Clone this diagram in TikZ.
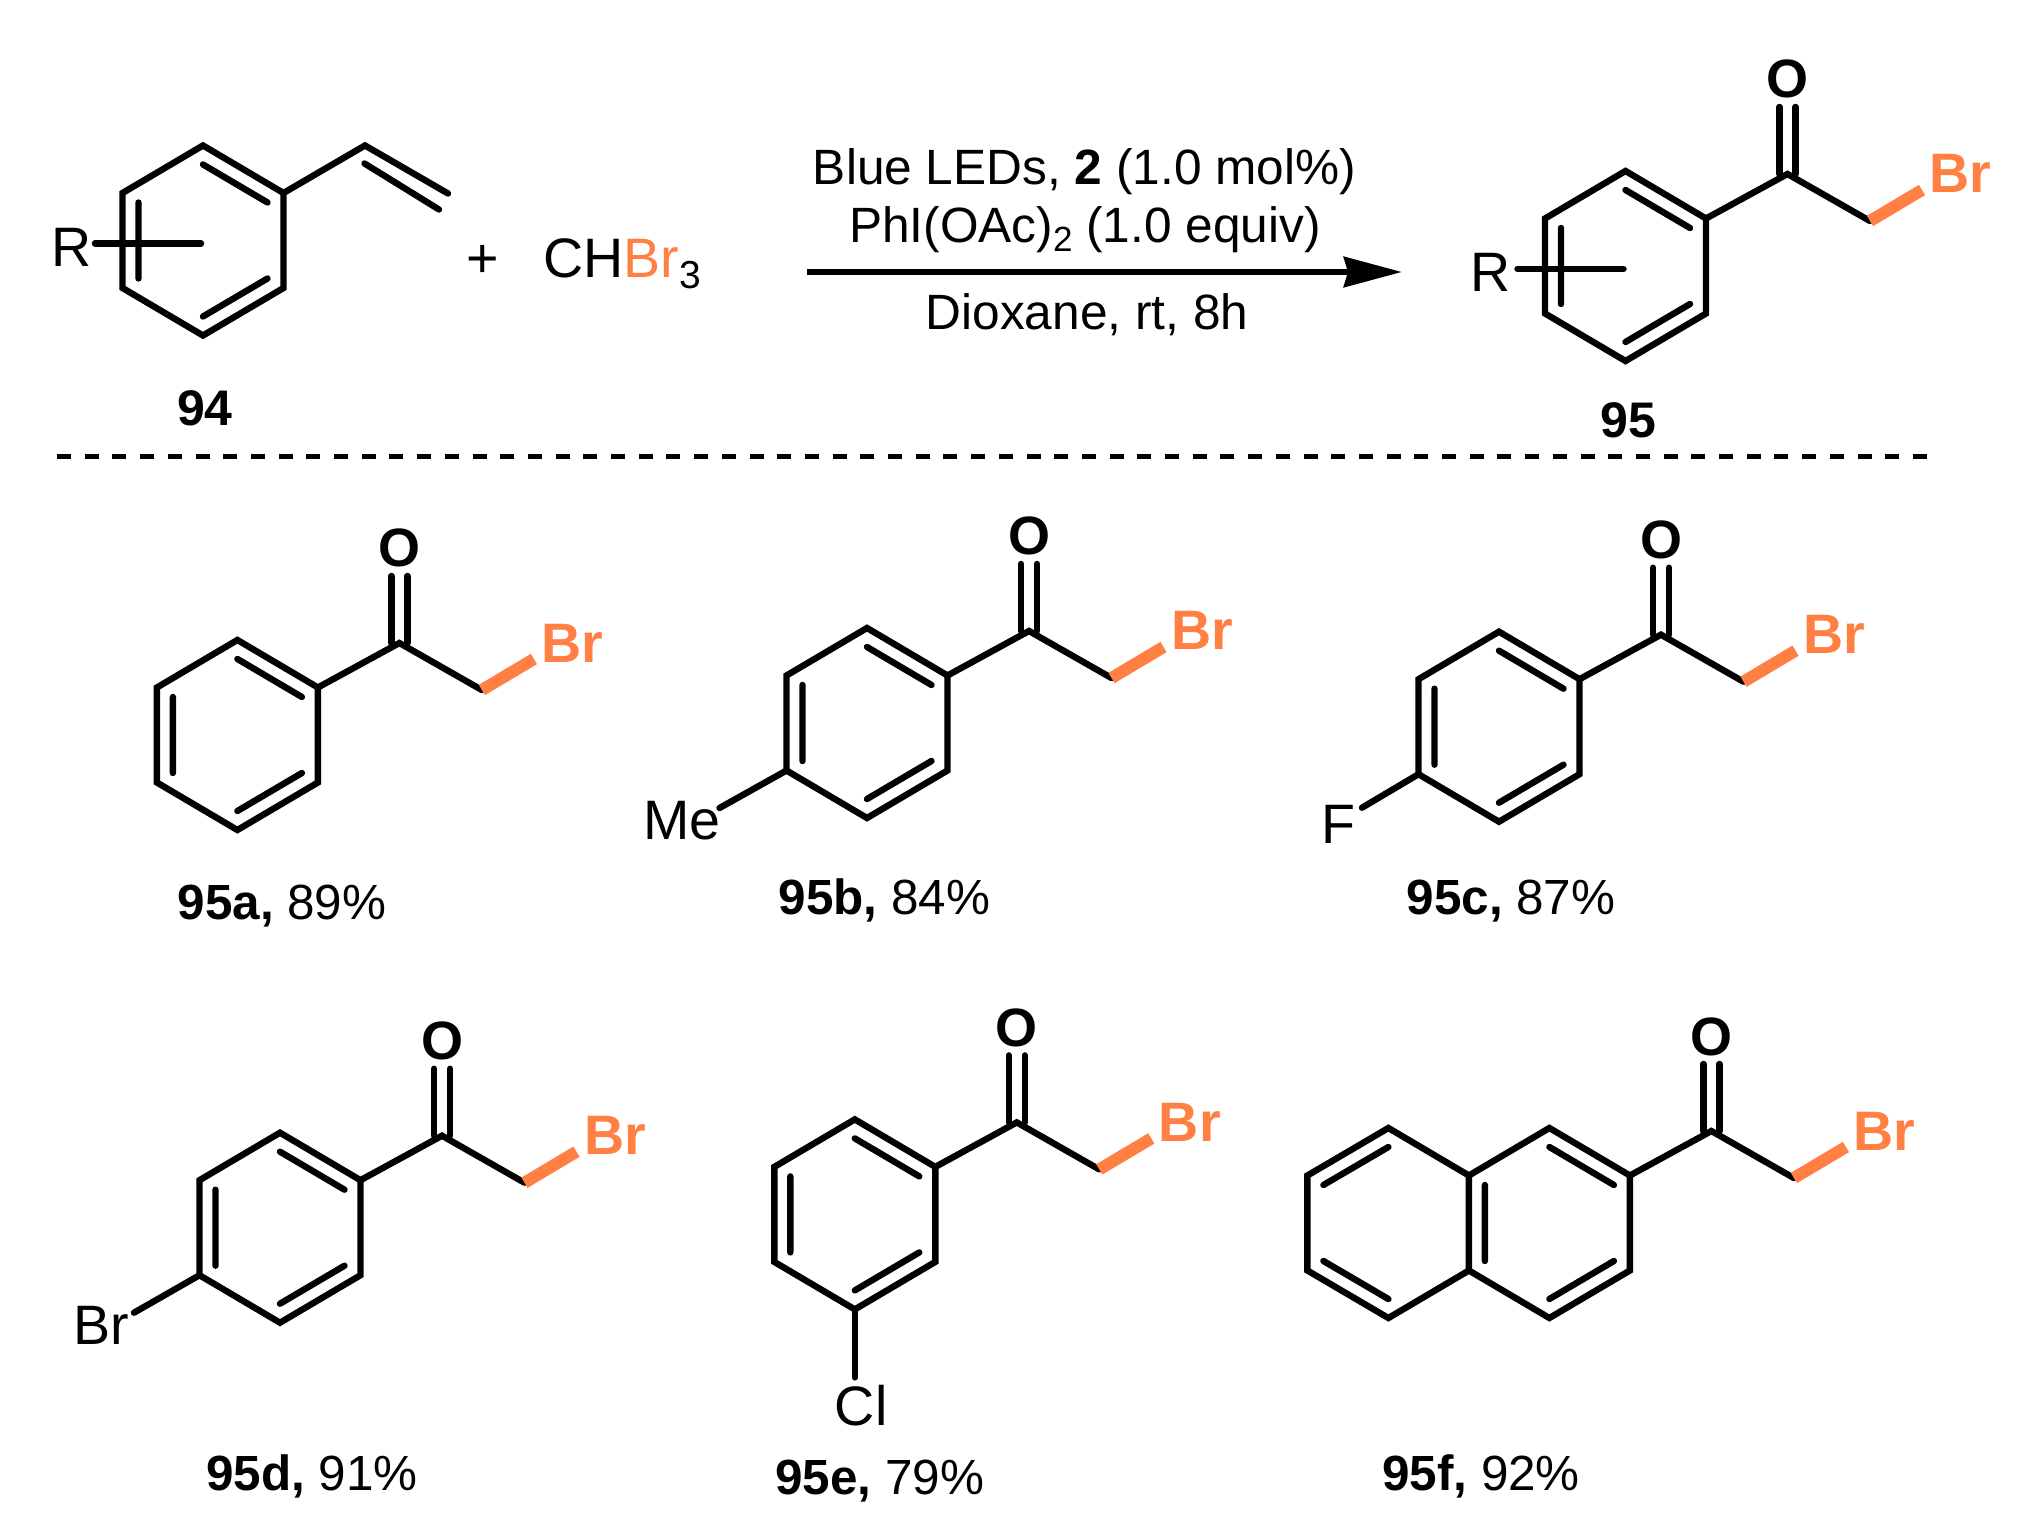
\documentclass[tikz,border=0pt]{standalone}
\usepackage{fontspec}
\setmainfont{Liberation Sans}
\usetikzlibrary{arrows.meta}
\definecolor{brorange}{HTML}{FF8042}
\tikzset{
  x=0.5pt,y=-0.5pt,
  bond/.style={draw=black,line width=3.2pt,line join=miter,line cap=round},
  brbond/.style={draw=brorange,line width=6pt,line cap=butt},
  atom/.style={anchor=base,inner sep=0pt,font=\fontsize{27.8}{27.8}\selectfont},
  bratom/.style={anchor=base,inner sep=0pt,text=brorange,font=\fontsize{27.8}{27.8}\selectfont\bfseries},
  oatom/.style={anchor=base,inner sep=0pt,font=\fontsize{27}{27}\selectfont\bfseries},
  cond/.style={anchor=base,inner sep=0pt,font=\fontsize{24.8}{24.8}\selectfont},
  lab/.style={anchor=base,inner sep=0pt,font=\fontsize{24.7}{24.7}\selectfont},
}
\newcommand{\ringcoords}{%
  \coordinate (r1) at (0,-95);\coordinate (r2) at (80.5,-47.5);\coordinate (r3) at (80.5,47.5);
  \coordinate (r4) at (0,95);\coordinate (r5) at (-80.5,47.5);\coordinate (r6) at (-80.5,-47.5);
  \coordinate (i1) at (0,-76);\coordinate (i2) at (64.5,-38);\coordinate (i3) at (64.5,38);
  \coordinate (i4) at (0,76);\coordinate (i5) at (-64.5,38);\coordinate (i6) at (-64.5,-38);}
\newcommand{\ringpts}{%
  \ringcoords
  \draw[bond] (r1)--(r2)--(r3)--(r4)--(r5)--(r6)--cycle;
  \draw[bond] (i1)--(i2) (i3)--(i4) (i5)--(i6);}
\newcommand{\ketone}{%
  \coordinate (cc) at (162,-92);\coordinate (ch) at (244.5,-45);\coordinate (bre) at (296.5,-76);
  \coordinate (o1) at (154,-92);\coordinate (o2) at (170,-92);
  \coordinate (o1t) at (154,-159);\coordinate (o2t) at (170,-159);
  \node[oatom] (ox) at (162,-168) {O};
  \node[bratom] (brx) at (335,-73) {Br};
  \draw[bond] (r2)--(cc)--(ch);
  \draw[bond] (o1)--(o1t) (o2)--(o2t);
  \draw[brbond] (ch)--(bre);}
\begin{document}
\begin{tikzpicture}
\useasboundingbox (0,0) rectangle (2024,1529);
% 94
\begin{scope}[shift={(203,240.5)},name prefix=sm-]
  \ringpts
  \coordinate (v1) at (162,-95);\coordinate (v2) at (245,-47);
  \coordinate (v1i) at (161.5,-77);\coordinate (v2i) at (236,-31);
  \draw[bond] (r2)--(v1)--(v2);
  \draw[bond] (v1i)--(v2i);
  \coordinate (ra) at (-108,3);\coordinate (rb) at (-2,3);
  \draw[bond] (ra)--(rb);
  \node[atom,anchor=base west] (rl) at (-152,26) {R};
\end{scope}
\node[lab,font=\fontsize{25}{25}\selectfont\bfseries] (n94) at (205,426) {94};
\node[atom] (plus) at (482.6,278) {+};
\node[atom,anchor=base west] (chbr) at (543,278) {CH{\color{brorange}Br}\raisebox{-5.5pt}{\fontsize{19.5}{19.5}\selectfont 3}};
% conditions
\node[cond] (c1) at (1084.5,185) {Blue LEDs, \textbf{2} (1.0 mol\%)};
\node[cond] (c2) at (1085,243) {PhI(OAc)\raisebox{-4.5pt}{\fontsize{17.5}{17.5}\selectfont 2} (1.0 equiv)};
\node[cond] (c3) at (1087,330) {Dioxane, rt, 8h};
\coordinate (as) at (807,272);\coordinate (ae) at (1402,272);
\draw[line width=3.3pt,-{Stealth[length=29pt,width=15pt,inset=2pt]}] (as)--(ae);
% 95
\begin{scope}[shift={(1625.5,266)},name prefix=pr-]
  \ringpts\ketone
  \coordinate (ra) at (-108,3);\coordinate (rb) at (-2,3);
  \draw[bond] (ra)--(rb);
  \node[atom,anchor=base west] (rl) at (-155,26) {R};
\end{scope}
\node[lab,font=\fontsize{25}{25}\selectfont\bfseries] (n95) at (1628,438) {95};
\coordinate (da) at (57,457);\coordinate (db) at (1927,457);
\draw[line width=2.5pt,dash pattern=on 7pt off 6.85pt] (da)--(db);
% 95a
\begin{scope}[shift={(237.4,735)},name prefix=a-]
  \ringpts\ketone
\end{scope}
\node[lab] (la) at (282,919) {\textbf{95a,} 89\%};
% 95b
\begin{scope}[shift={(867,723)},name prefix=b-]
  \ringpts\ketone
  \node[atom] (me) at (-185,116) {Me};
  \coordinate (se) at (-147.5,85);
  \draw[bond] (r5)--(se);
\end{scope}
\node[lab] (lb) at (884.5,914) {\textbf{95b,} 84\%};
% 95c
\begin{scope}[shift={(1499,726.7)},name prefix=c-]
  \ringpts\ketone
  \node[atom] (f) at (-161,116.6) {F};
  \coordinate (se) at (-137,81);
  \draw[bond] (r5)--(se);
\end{scope}
\node[lab] (lc) at (1511,914) {\textbf{95c,} 87\%};
% 95d
\begin{scope}[shift={(280,1227.7)},name prefix=d-]
  \ringpts\ketone
  \node[atom] (bb) at (-178.5,116.5) {Br};
  \coordinate (se) at (-146,85);
  \draw[bond] (r5)--(se);
\end{scope}
\node[lab] (ld) at (312,1490.5) {\textbf{95d,} 91\%};
% 95e
\begin{scope}[shift={(854.8,1214.4)},name prefix=e-]
  \ringpts\ketone
  \node[atom] (cl) at (6.4,211) {Cl};
  \coordinate (se) at (0,163);
  \draw[bond] (r4)--(se);
\end{scope}
\node[lab] (le) at (879.7,1494.7) {\textbf{95e,} 79\%};
% 95f
\begin{scope}[shift={(1549.4,1223)},name prefix=f-]
  \ringcoords
  \coordinate (l1) at (-161,-95);\coordinate (l4) at (-161,95);
  \coordinate (l2) at (-242,-47.5);\coordinate (l3) at (-242,47.5);
  \coordinate (j1) at (-161,-76);\coordinate (j4) at (-161,76);
  \coordinate (j2) at (-226,-38);\coordinate (j3) at (-226,38);
  \draw[bond] (r1)--(r2)--(r3)--(r4)--(r5)--(r6)--cycle;
  \draw[bond] (r6)--(l1)--(l2)--(l3)--(l4)--(r5);
  \draw[bond] (i1)--(i2) (i3)--(i4) (i5)--(i6);
  \draw[bond] (j1)--(j2) (j3)--(j4);
  \ketone
\end{scope}
\node[lab] (lf) at (1481,1490) {\textbf{95f,} 92\%};
\end{tikzpicture}
\end{document}
